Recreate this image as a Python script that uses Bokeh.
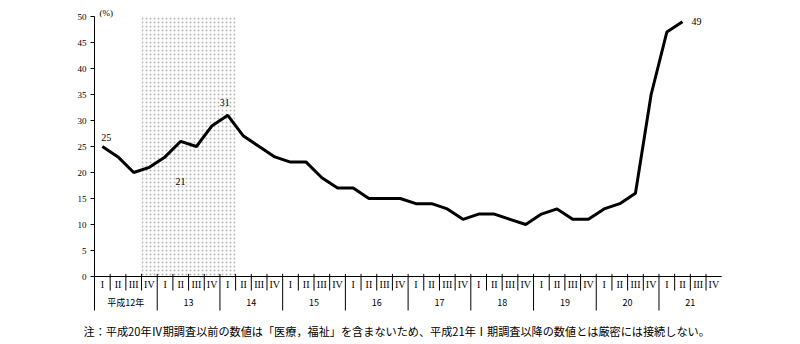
from bokeh.plotting import figure
from bokeh.models import Range1d, FixedTicker, Label, ColumnDataSource
from bokeh.core.properties import value
from bokeh.embed import file_html
from bokeh.resources import INLINE

# ---- data ----
quarter_names = ["I", "II", "III", "IV"]
year_labels = ["平成12年", "13", "14", "15", "16", "17", "18", "19", "20", "21"]
rate = [25, 23, 20, 21,
        23, 26, 25, 29,
        31, 27, 25, 23,
        22, 22, 19, 17,
        17, 15, 15, 15,
        14, 14, 13, 11,
        12, 12, 11, 10,
        12, 13, 11, 11,
        13, 14, 16, 35,
        47, 49]
label_index = [0, 3, 8, 37]
label_text = ["25", "21", "31", "49"]
shade_start, shade_end = 3, 9          # quarter boundaries of shaded period
y_ticks = list(range(0, 51, 5))
note = "注：平成20年Ⅳ期調査以前の数値は「医療，福祉」を含まないため、平成21年Ⅰ期調査以降の数値とは厳密には接続しない。"

# ---- geometry (pixels) ----
W, H = 800, 344
LEFT = 94
QW = 15.68           # px per quarter
PY = 5.2             # px per percent
Y0 = 276             # pixel row of 0 %

n_quarters = len(year_labels) * 4

p = figure(width=W, height=H, output_backend="svg", toolbar_location=None,
           x_range=Range1d(-LEFT / QW, (W - LEFT) / QW),
           y_range=Range1d(-(H - Y0) / PY, Y0 / PY),
           min_border_left=0, min_border_right=0, min_border_top=0, min_border_bottom=0,
           x_axis_location=None, y_axis_location="left")
p.grid.visible = False
p.outline_line_color = None
p.background_fill_color = "white"
p.border_fill_color = "white"

ax = p.yaxis[0]
ax.fixed_location = 0
ax.ticker = FixedTicker(ticks=y_ticks)
ax.bounds = (0, 50)
ax.axis_line_color = "black"
ax.axis_line_width = 1
ax.major_tick_in = 0
ax.major_tick_out = 4
ax.minor_tick_line_color = None
ax.major_label_standoff = 4
ax.major_label_text_font = "Liberation Serif"
ax.major_label_text_font_size = "9px"
ax.major_label_text_color = "black"

# shaded period
p.quad(left=[shade_start], right=[shade_end], bottom=[0], top=[50],
       fill_color=None, line_color=None,
       hatch_pattern="dot", hatch_color="#b4b4b4", hatch_scale=4, hatch_weight=0.5)

# x axis line
p.segment(x0=[0], y0=[0], x1=[n_quarters], y1=[0], line_color="black", line_width=1)

# dividers
qx, qy0, qy1 = [], [], []
for k in range(n_quarters):
    qx.append(k)
    qy0.append(0.5 if k else 0)
    qy1.append(-34 / PY if k % 4 == 0 else -14 / PY)
p.segment(x0=qx, y0=qy0, x1=qx, y1=qy1, line_color="black", line_width=1)

# quarter labels
p.text(x=[k + 0.5 for k in range(n_quarters)], y=[-(284 - Y0) / PY] * n_quarters,
       text=[quarter_names[k % 4] for k in range(n_quarters)],
       text_align="center", text_baseline="middle",
       text_font=value("Liberation Serif"), text_font_size="10px", text_color="black")

# year labels
p.text(x=[4 * j + 2 for j in range(len(year_labels))], y=[-(302 - Y0) / PY] * len(year_labels),
       text=year_labels, text_align="center", text_baseline="middle",
       text_font=value("Noto Sans CJK JP"), text_font_size="9px", text_color="black")

# data line
xs = [i + 0.5 for i in range(len(rate))]
p.line(x=xs, y=rate, line_color="black", line_width=3)

# data labels
offsets = {0: (4, -9), 3: (31, 14), 8: (-3, -13), 37: (14, 0)}
src = ColumnDataSource(dict(
    x=[xs[i] for i in label_index],
    y=[rate[i] for i in label_index],
    t=label_text,
    dx=[offsets[i][0] for i in label_index],
    dy=[offsets[i][1] for i in label_index]))
p.text(x="x", y="y", text="t", x_offset="dx", y_offset="dy", source=src,
       text_align="center", text_baseline="middle",
       text_font=value("Liberation Serif"), text_font_size="10px", text_color="black")

# unit label
p.add_layout(Label(x=(99 - LEFT) / QW, y=(Y0 - 12.5) / PY, text="(%)",
                   text_baseline="middle", text_align="left",
                   text_font="Liberation Serif", text_font_size="9px", text_color="black"))

# footnote
p.add_layout(Label(x=(83 - LEFT) / QW, y=(Y0 - 330) / PY, text=note,
                   text_baseline="middle", text_align="left",
                   text_font="Noto Sans CJK JP", text_font_size="11.15px", text_color="black"))

open("out.html", "w").write(file_html(p, INLINE))
